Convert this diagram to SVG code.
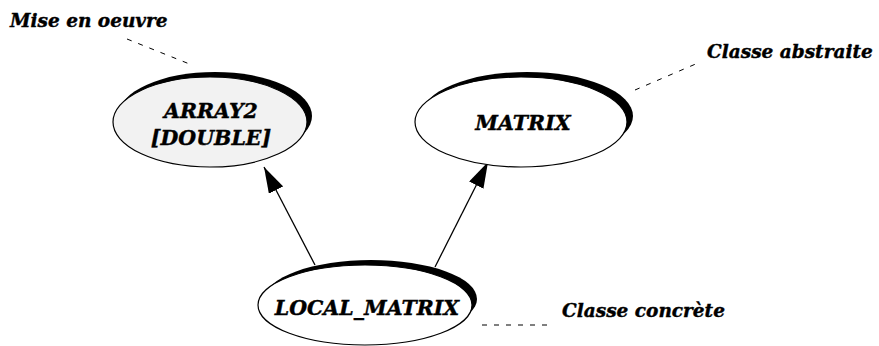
<svg xmlns="http://www.w3.org/2000/svg" width="879" height="346" viewBox="0 0 879 346">
<style>
.lbl{font-family:"DejaVu Serif","Liberation Serif",serif;font-weight:bold;font-style:italic;font-size:18.5px;fill:#000;stroke:#000;stroke-width:0.4}
.node{font-family:"DejaVu Serif","Liberation Serif",serif;font-weight:bold;font-style:italic;font-size:20.5px;fill:#000;stroke:#000;stroke-width:0.4;text-anchor:middle}
.sh{fill:#000}
.el{stroke:#000;stroke-width:1.2}
.lead{stroke:#000;stroke-width:1;stroke-dasharray:5 7;fill:none}
.edge{stroke:#000;stroke-width:1.3;fill:none}
</style>
<defs>
<marker id="ah" viewBox="0 0 26 16" refX="26" refY="8" markerWidth="26" markerHeight="16" markerUnits="userSpaceOnUse" orient="auto">
<path d="M0,0 L26,8 L0,16 Z" fill="#000"/>
</marker>
</defs>
<rect width="879" height="346" fill="#fff"/>
<g id="connectors">
<line class="edge" x1="315" y1="265" x2="264" y2="167" marker-end="url(#ah)"/>
<line class="edge" x1="435" y1="267" x2="488" y2="162" marker-end="url(#ah)"/>
<line class="lead" x1="127" y1="39" x2="192" y2="65"/>
<line class="lead" x1="635" y1="90" x2="698" y2="63"/>
<line class="lead" x1="482" y1="325" x2="550" y2="325"/>
</g>
<g id="array2">
<ellipse class="sh" cx="215" cy="116" rx="97" ry="44"/>
<ellipse class="el" cx="210" cy="122" rx="97" ry="45" fill="#f2f2f2"/>
<text class="node" x="211" y="118">ARRAY2</text>
<text class="node" x="211" y="145">[DOUBLE]</text>
</g>
<g id="matrix">
<ellipse class="sh" cx="527" cy="116" rx="106" ry="44"/>
<ellipse class="el" cx="521" cy="122" rx="106" ry="45" fill="#fff"/>
<text class="node" x="523" y="130">MATRIX</text>
</g>
<g id="local_matrix">
<ellipse class="sh" cx="371" cy="299" rx="106" ry="39"/>
<ellipse class="el" cx="365" cy="305" rx="107" ry="40" fill="#fff"/>
<text class="node" x="367" y="315">LOCAL_MATRIX</text>
</g>
<g id="labels">
<text class="lbl" x="10" y="27">Mise en oeuvre</text>
<text class="lbl" x="707" y="58">Classe abstraite</text>
<text class="lbl" x="562" y="317">Classe concrète</text>
</g>
</svg>
